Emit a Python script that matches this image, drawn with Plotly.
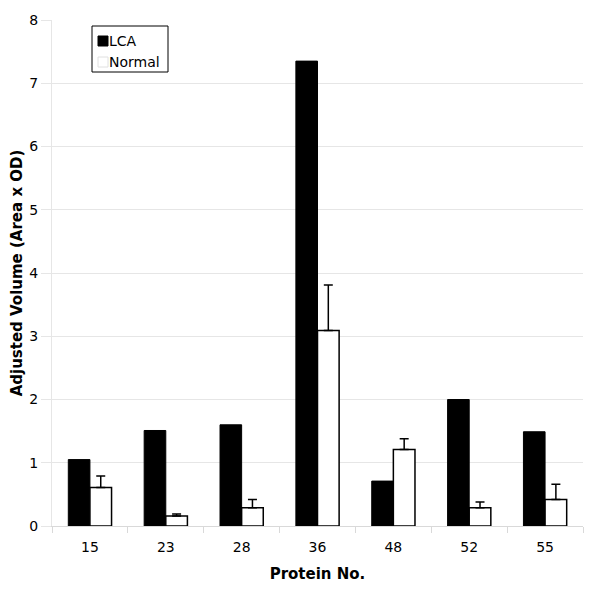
import plotly.graph_objects as go

proteins = ["15", "23", "28", "36", "48", "52", "55"]
lca = [1.05, 1.51, 1.60, 7.35, 0.71, 2.00, 1.49]
normal = [0.61, 0.16, 0.29, 3.09, 1.21, 0.29, 0.42]
normal_err = [0.18, 0.03, 0.13, 0.72, 0.17, 0.09, 0.24]
y_ticks = [0, 1, 2, 3, 4, 5, 6, 7, 8]

# plot area in window pixels; the page body adds an 8px offset
L, R, T, B = 52, 583, 20, 526
OFF = 8


def px(x):
    return (x - L) / (R - L)


def py(y):
    return (B - y) / (B - T)


fig = go.Figure()

fig.add_trace(go.Bar(
    x=proteins,
    y=lca,
    name="LCA",
    marker=dict(color="black", line=dict(color="black", width=1)),
))

fig.add_trace(go.Bar(
    x=proteins,
    y=normal,
    name="Normal",
    marker=dict(color="white", line=dict(color="black", width=1.5)),
    error_y=dict(type="data", array=normal_err, symmetric=False,
                 arrayminus=[0] * len(normal_err),
                 color="black", thickness=1.5, width=4.5),
))

# legend box like the original (square swatch right next to the text)
fig.add_shape(type="rect", xref="paper", yref="paper",
              x0=px(92), x1=px(168), y0=py(72), y1=py(26),
              line=dict(color="black", width=1), fillcolor="white")
fig.add_shape(type="rect", xref="paper", yref="paper",
              x0=px(98), x1=px(108), y0=py(46), y1=py(36),
              line=dict(color="black", width=1), fillcolor="black")
fig.add_shape(type="rect", xref="paper", yref="paper",
              x0=px(98), x1=px(108), y0=py(67), y1=py(57),
              line=dict(color="#e0e0e0", width=1), fillcolor="white")
fig.add_annotation(text="LCA", xref="paper", yref="paper",
                   x=px(107), y=py(41.5), xanchor="left", yanchor="middle",
                   showarrow=False, font=dict(size=14))
fig.add_annotation(text="Normal", xref="paper", yref="paper",
                   x=px(107), y=py(62.5), xanchor="left", yanchor="middle",
                   showarrow=False, font=dict(size=14))

fig.update_layout(
    width=600,
    height=595,
    barmode="group",
    bargap=0.43,
    bargroupgap=0,
    plot_bgcolor="white",
    paper_bgcolor="white",
    font=dict(family="DejaVu Sans", size=14, color="black"),
    margin=dict(l=L - OFF, r=600 - R + OFF, t=T - OFF, b=595 - B + OFF),
    showlegend=False,
)

fig.update_xaxes(
    title=dict(text="<b>Protein No.</b>", font=dict(size=15), standoff=14),
    automargin=False,
    showline=True, linecolor="#d9d9d9", linewidth=1,
    ticks="outside", tickson="boundaries", ticklen=6, tickcolor="#d9d9d9",
    ticklabelstandoff=8,
    showgrid=False,
)

fig.update_yaxes(
    title=dict(text="<b>Adjusted Volume (Area x OD)</b>", font=dict(size=15), standoff=8),
    automargin=False,
    range=[0, 8],
    tickvals=y_ticks,
    showline=True, linecolor="#e6e6e6", linewidth=1,
    ticks="outside", ticklen=10, tickcolor="#e6e6e6",
    showgrid=True, gridcolor="#e6e6e6", gridwidth=1,
    zeroline=False,
)

fig.write_html("out.html")
